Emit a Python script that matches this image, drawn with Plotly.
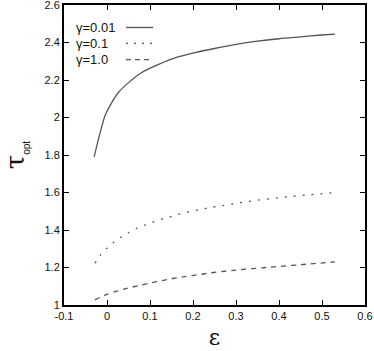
import plotly.graph_objects as go

# data
eps_001 = [-0.03, -0.016, -0.005, 0.011, 0.026, 0.05, 0.08, 0.12, 0.16, 0.205, 0.25, 0.3, 0.35, 0.4, 0.45, 0.5, 0.53]
tau_001 = [1.79, 1.918, 2.007, 2.079, 2.132, 2.186, 2.239, 2.283, 2.319, 2.346, 2.368, 2.39, 2.407, 2.42, 2.43, 2.44, 2.445]

eps_01 = [-0.028, -0.016, 0.0, 0.016, 0.033, 0.051, 0.07, 0.09, 0.11, 0.131, 0.15, 0.171, 0.192, 0.214, 0.234, 0.26, 0.3, 0.34, 0.38, 0.425, 0.47, 0.53]
tau_01 = [1.223, 1.264, 1.303, 1.335, 1.362, 1.387, 1.41, 1.428, 1.445, 1.46, 1.472, 1.487, 1.497, 1.508, 1.517, 1.527, 1.542, 1.556, 1.567, 1.578, 1.588, 1.599]

eps_10 = [-0.028, -0.005, 0.019, 0.042, 0.073, 0.104, 0.143, 0.181, 0.22, 0.243, 0.3, 0.37, 0.45, 0.53]
tau_10 = [1.027, 1.053, 1.071, 1.086, 1.103, 1.119, 1.137, 1.151, 1.164, 1.172, 1.186, 1.2, 1.215, 1.23]

labels = ["γ=0.01", "γ=0.1", "γ=1.0"]
dashes = ["solid", "2px,7px", "5px,5px"]
legend_dashes = ["solid", "2px,6px", "5px,4px"]
x_ticks = [-0.1, 0, 0.1, 0.2, 0.3, 0.4, 0.5, 0.6]
x_ticktext = ["-0.1", "0", "0.1", "0.2", "0.3", "0.4", "0.5", "0.6"]
y_ticks = [1, 1.2, 1.4, 1.6, 1.8, 2, 2.2, 2.4, 2.6]
y_ticktext = ["1", "1.2", "1.4", "1.6", "1.8", "2", "2.2", "2.4", "2.6"]

LINE = "#555555"
FONT = "Liberation Sans, Arial, sans-serif"

fig = go.Figure()
for xs, ys, name, d in zip([eps_001, eps_01, eps_10], [tau_001, tau_01, tau_10], labels, dashes):
    fig.add_trace(go.Scatter(x=xs, y=ys, mode="lines", name=name,
                             line=dict(color=LINE, width=1.3, dash=d, shape="spline", smoothing=0.8),
                             showlegend=False))

# gnuplot-style key: text then sample on the right
key_y = [0.925, 0.872, 0.818]
for name, d, ky in zip(labels, legend_dashes, key_y):
    fig.add_annotation(xref="paper", yref="paper", x=0.033, y=ky, text=name,
                       showarrow=False, xanchor="left", yanchor="middle",
                       font=dict(family=FONT, size=13, color="#111"))
    fig.add_shape(type="line", xref="paper", yref="paper", x0=0.206, x1=0.296, y0=ky, y1=ky,
                  line=dict(color=LINE, width=1.3, dash=d))

axis_common = dict(showline=True, linecolor="black", linewidth=2, mirror="ticks",
                   ticks="inside", ticklen=5, tickwidth=1, tickcolor="black",
                   showgrid=False, zeroline=False, automargin=False,
                   ticklabeloverflow="allow",
                   tickfont=dict(family=FONT, size=11, color="#111"))

fig.update_xaxes(range=[-0.1, 0.6], tickvals=x_ticks, ticktext=x_ticktext,
                 title=dict(text="ε", font=dict(family="DejaVu Serif, serif", size=22, color="#111"), standoff=8),
                 **axis_common)
fig.update_yaxes(range=[1, 2.6], tickvals=y_ticks, ticktext=y_ticktext,
                 title=dict(text="τ<sub><span style='font-size:10px;font-family:Liberation Sans'>opt</span></sub>",
                            font=dict(family="DejaVu Serif, serif", size=26, color="#111"), standoff=12),
                 **axis_common)

fig.update_layout(width=374, height=351, margin=dict(l=64, r=9, t=5, b=46),
                  plot_bgcolor="white", paper_bgcolor="white",
                  font=dict(family=FONT))

fig.write_html("out.html", config={"displayModeBar": False},
               post_script="document.body.style.margin='0';document.body.style.overflow='hidden';")
